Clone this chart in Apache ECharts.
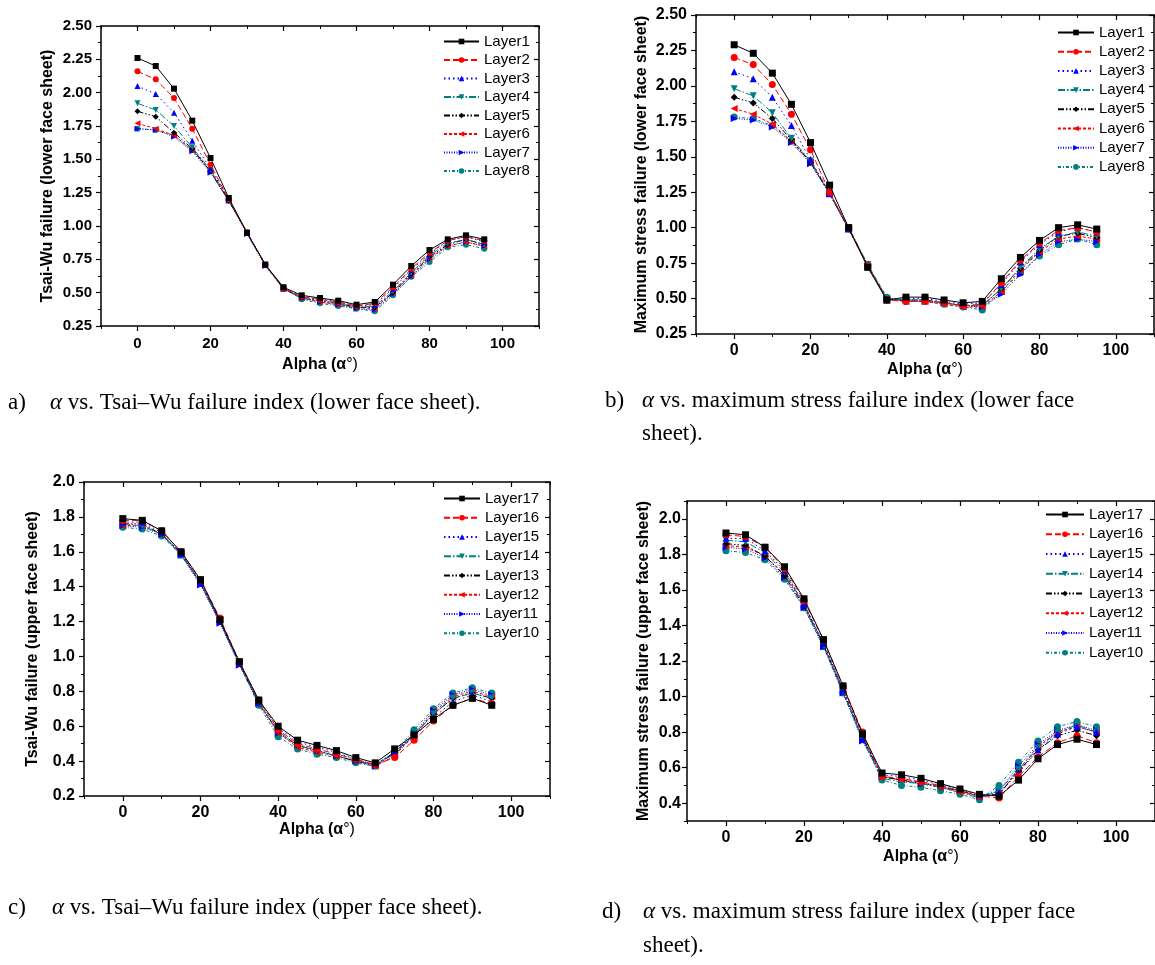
<!DOCTYPE html>
<html><head><meta charset="utf-8">
<script src="https://cdn.jsdelivr.net/npm/echarts@6/dist/echarts.min.js"></script>
<style>html,body{margin:0;padding:0;background:#fff}#c{width:1155px;height:965px}</style>
</head><body><div id="c"></div>
<script>
// ---------------- data ----------------
const alpha = [0,5,10,15,20,25,30,35,40,45,50,55,60,65,70,75,80,85,90,95];
const xTickValues = [0,20,40,60,80,100];
const yTicksLower = [0.25,0.5,0.75,1.0,1.25,1.5,1.75,2.0,2.25,2.5];
const yTicksTsaiUpper = [0.2,0.4,0.6,0.8,1.0,1.2,1.4,1.6,1.8,2.0];
const yTicksMaxUpper = [0.4,0.6,0.8,1.0,1.2,1.4,1.6,1.8,2.0];
const namesLower = ['Layer1','Layer2','Layer3','Layer4','Layer5','Layer6','Layer7','Layer8'];
const namesUpper = ['Layer17','Layer16','Layer15','Layer14','Layer13','Layer12','Layer11','Layer10'];

// (a) Tsai-Wu, lower face sheet
const tsaiLowerL1 = [2.26,2.20,2.03,1.79,1.51,1.21,0.95,0.71,0.54,0.48,0.46,0.44,0.41,0.43,0.56,0.70,0.82,0.90,0.93,0.90];
const tsaiLowerL2 = [2.16,2.10,1.96,1.73,1.46,1.20,0.95,0.71,0.53,0.47,0.45,0.43,0.40,0.42,0.54,0.68,0.80,0.89,0.92,0.89];
const tsaiLowerL3 = [2.05,1.99,1.85,1.64,1.43,1.20,0.95,0.71,0.53,0.47,0.45,0.43,0.40,0.41,0.53,0.67,0.79,0.89,0.92,0.88];
const tsaiLowerL4 = [1.92,1.87,1.75,1.59,1.42,1.20,0.95,0.71,0.53,0.46,0.44,0.42,0.39,0.40,0.51,0.65,0.78,0.87,0.90,0.86];
const tsaiLowerL5 = [1.86,1.82,1.70,1.58,1.41,1.19,0.95,0.71,0.53,0.46,0.44,0.42,0.39,0.39,0.50,0.64,0.77,0.86,0.90,0.86];
const tsaiLowerL6 = [1.77,1.73,1.68,1.57,1.41,1.19,0.95,0.71,0.53,0.46,0.43,0.41,0.39,0.38,0.50,0.63,0.76,0.85,0.88,0.85];
const tsaiLowerL7 = [1.73,1.72,1.67,1.56,1.40,1.19,0.94,0.70,0.53,0.46,0.43,0.41,0.38,0.37,0.49,0.62,0.75,0.85,0.88,0.85];
const tsaiLowerL8 = [1.73,1.72,1.68,1.57,1.41,1.19,0.95,0.71,0.54,0.45,0.42,0.40,0.38,0.36,0.48,0.62,0.73,0.84,0.86,0.83];

// (b) Maximum stress, lower face sheet
const maxLowerL1 = [2.29,2.23,2.09,1.87,1.60,1.30,1.00,0.72,0.49,0.51,0.51,0.49,0.47,0.48,0.64,0.79,0.91,1.00,1.02,0.99];
const maxLowerL2 = [2.20,2.15,2.01,1.80,1.55,1.25,1.00,0.73,0.49,0.48,0.48,0.47,0.45,0.46,0.61,0.77,0.89,0.98,1.00,0.97];
const maxLowerL3 = [2.10,2.05,1.92,1.72,1.48,1.24,0.99,0.73,0.49,0.50,0.50,0.48,0.46,0.47,0.60,0.76,0.88,0.97,1.00,0.97];
const maxLowerL4 = [1.98,1.93,1.81,1.63,1.47,1.25,1.00,0.74,0.50,0.49,0.49,0.47,0.45,0.45,0.57,0.72,0.85,0.94,0.97,0.94];
const maxLowerL5 = [1.92,1.88,1.77,1.62,1.46,1.24,0.99,0.73,0.49,0.49,0.49,0.47,0.45,0.45,0.57,0.71,0.84,0.94,0.96,0.93];
const maxLowerL6 = [1.84,1.80,1.73,1.61,1.46,1.24,0.99,0.73,0.50,0.48,0.48,0.46,0.44,0.44,0.55,0.70,0.83,0.92,0.94,0.92];
const maxLowerL7 = [1.77,1.76,1.71,1.60,1.45,1.24,0.99,0.73,0.50,0.49,0.48,0.47,0.45,0.44,0.53,0.67,0.81,0.90,0.92,0.90];
const maxLowerL8 = [1.78,1.77,1.72,1.61,1.47,1.25,1.00,0.74,0.51,0.48,0.48,0.46,0.44,0.42,0.55,0.68,0.80,0.88,0.92,0.88];

// (c) Tsai-Wu, upper face sheet (Layer17 ... Layer10)
const tsaiUpperL17 = [1.79,1.78,1.72,1.60,1.44,1.21,0.97,0.75,0.60,0.52,0.49,0.46,0.42,0.39,0.47,0.55,0.64,0.72,0.76,0.72];
const tsaiUpperL16 = [1.78,1.78,1.72,1.60,1.44,1.22,0.97,0.75,0.58,0.50,0.47,0.44,0.41,0.38,0.42,0.52,0.63,0.72,0.76,0.73];
const tsaiUpperL15 = [1.77,1.77,1.71,1.59,1.42,1.20,0.96,0.74,0.59,0.51,0.48,0.45,0.41,0.38,0.45,0.54,0.65,0.74,0.78,0.74];
const tsaiUpperL14 = [1.76,1.75,1.70,1.59,1.42,1.20,0.96,0.73,0.57,0.49,0.46,0.43,0.40,0.38,0.44,0.55,0.67,0.76,0.79,0.76];
const tsaiUpperL13 = [1.76,1.76,1.70,1.59,1.42,1.20,0.96,0.73,0.57,0.49,0.46,0.43,0.40,0.38,0.45,0.55,0.67,0.76,0.79,0.76];
const tsaiUpperL12 = [1.75,1.75,1.70,1.59,1.43,1.21,0.97,0.74,0.56,0.48,0.45,0.43,0.40,0.37,0.43,0.55,0.68,0.77,0.80,0.77];
const tsaiUpperL11 = [1.75,1.74,1.70,1.58,1.41,1.19,0.95,0.73,0.56,0.49,0.46,0.43,0.40,0.37,0.45,0.56,0.69,0.78,0.81,0.78];
const tsaiUpperL10 = [1.74,1.73,1.69,1.58,1.42,1.20,0.96,0.72,0.54,0.47,0.44,0.42,0.39,0.37,0.45,0.58,0.70,0.79,0.82,0.79];

// (d) Maximum stress, upper face sheet (Layer17 ... Layer10)
const maxUpperL17 = [1.92,1.91,1.84,1.73,1.55,1.32,1.06,0.79,0.57,0.56,0.54,0.51,0.48,0.45,0.44,0.53,0.65,0.73,0.76,0.73];
const maxUpperL16 = [1.91,1.90,1.84,1.72,1.54,1.32,1.06,0.80,0.55,0.54,0.52,0.50,0.47,0.44,0.43,0.55,0.66,0.74,0.78,0.74];
const maxUpperL15 = [1.89,1.89,1.82,1.71,1.52,1.30,1.04,0.76,0.56,0.55,0.53,0.51,0.48,0.44,0.46,0.57,0.70,0.79,0.83,0.80];
const maxUpperL14 = [1.88,1.87,1.81,1.70,1.52,1.29,1.03,0.76,0.54,0.52,0.51,0.49,0.46,0.43,0.47,0.59,0.71,0.80,0.84,0.80];
const maxUpperL13 = [1.86,1.85,1.79,1.68,1.51,1.29,1.03,0.77,0.55,0.53,0.51,0.49,0.47,0.44,0.45,0.58,0.70,0.78,0.81,0.78];
const maxUpperL12 = [1.85,1.84,1.79,1.69,1.52,1.30,1.04,0.78,0.55,0.53,0.52,0.49,0.46,0.44,0.45,0.59,0.72,0.80,0.83,0.80];
const maxUpperL11 = [1.84,1.83,1.78,1.67,1.50,1.28,1.02,0.75,0.55,0.53,0.51,0.50,0.47,0.44,0.47,0.61,0.73,0.81,0.84,0.81];
const maxUpperL10 = [1.82,1.81,1.77,1.66,1.50,1.28,1.02,0.76,0.53,0.50,0.49,0.47,0.45,0.42,0.50,0.63,0.75,0.83,0.86,0.83];

// ---------------- styles ----------------
const COLORS = ['#000000','#ff0000','#0000ff','#008080','#000000','#ff0000','#0000ff','#008080'];
const DASHES = ['solid',[6,3],[1.5,3],[7,2,1.5,2],[6,2,1.5,2,1.5,2],[3,2],[1,1.5],[3,2,1,2]];
const SYMBOLS = ['rect','circle','triangle','triangle','diamond','triangle','triangle','circle'];
const ROTATES = [0,0,0,180,0,90,-90,0];
const SANS = 'Liberation Sans, Arial, sans-serif';

const panels = [
  {grid:{left:101, top:26, width:438, height:300}, ymin:0.25, ymax:2.5, yTicks:yTicksLower, yMinor:0.125, dec:2,
   yName:'Tsai-Wu failure (lower face sheet)', yNameGap:45, xNameGap:31, tickFont:15, nameFont:16,
   yLabelMargin:9, xLabelMargin:10, sym:6,
   legend:{left:443, top:34, itemWidth:35, itemGap:3.5},
   names:namesLower, values:[tsaiLowerL1,tsaiLowerL2,tsaiLowerL3,tsaiLowerL4,tsaiLowerL5,tsaiLowerL6,tsaiLowerL7,tsaiLowerL8]},
  {grid:{left:696, top:15, width:458, height:319}, ymin:0.25, ymax:2.5, yTicks:yTicksLower, yMinor:0.125, dec:2,
   yName:'Maximum stress failure (lower face sheet)', yNameGap:46, xNameGap:28, tickFont:16, nameFont:16,
   yLabelMargin:9, xLabelMargin:9, sym:7,
   legend:{left:1057, top:25, itemWidth:36, itemGap:4.2},
   names:namesLower, values:[maxLowerL1,maxLowerL2,maxLowerL3,maxLowerL4,maxLowerL5,maxLowerL6,maxLowerL7,maxLowerL8]},
  {grid:{left:84, top:482, width:466, height:314}, ymin:0.2, ymax:2.0, yTicks:yTicksTsaiUpper, yMinor:0.1, dec:1,
   yName:'Tsai-Wu failure (upper face sheet)', yNameGap:43, xNameGap:26, tickFont:16, nameFont:16,
   yLabelMargin:9, xLabelMargin:9, sym:7,
   legend:{left:443, top:491, itemWidth:36, itemGap:4.25},
   names:namesUpper, values:[tsaiUpperL17,tsaiUpperL16,tsaiUpperL15,tsaiUpperL14,tsaiUpperL13,tsaiUpperL12,tsaiUpperL11,tsaiUpperL10]},
  {grid:{left:687, top:501, width:472, height:320}, ymin:0.3, ymax:2.1, yTicks:yTicksMaxUpper, yMinor:0.1, dec:1,
   yName:'Maximum stress failure (upper face sheet)', yNameGap:35, xNameGap:28, tickFont:16, nameFont:16,
   yLabelMargin:6, xLabelMargin:9, sym:7,
   legend:{left:1045, top:507, itemWidth:38, itemGap:4.75},
   names:namesUpper, values:[maxUpperL17,maxUpperL16,maxUpperL15,maxUpperL14,maxUpperL13,maxUpperL12,maxUpperL11,maxUpperL10]}
];

const grids = [], xAxes = [], yAxes = [], series = [], legends = [];
const AX = {color:'#000', width:1.5};
const NOLINE = {show:false, onZero:false};

panels.forEach(function (p, gi) {
  grids.push(Object.assign({containLabel:false}, p.grid));
  const lblStyle = {fontSize:p.tickFont, fontWeight:'bold', fontFamily:SANS, color:'#000'};
  // main bottom x axis
  const xMain = xAxes.length;
  xAxes.push({type:'value', gridIndex:gi, position:'bottom', min:-10, max:110,
    axisLine:{show:true, onZero:false, lineStyle:AX},
    axisTick:{show:true, customValues:xTickValues, length:5, lineStyle:{color:'#000', width:1.2}},
    axisLabel:Object.assign({show:true, customValues:xTickValues, margin:p.xLabelMargin}, lblStyle),
    splitLine:{show:false},
    name:'{b|Alpha (α}{n|°)}', nameLocation:'middle', nameGap:p.xNameGap,
    nameTextStyle:{rich:{b:{fontWeight:'bold', fontSize:p.nameFont, fontFamily:SANS, color:'#000'},
                         n:{fontSize:p.nameFont, fontFamily:SANS, color:'#000'}}}});
  // minor bottom ticks
  xAxes.push({type:'value', gridIndex:gi, position:'bottom', min:-10, max:110, interval:10,
    axisLine:NOLINE, axisTick:{show:true, length:3, lineStyle:{color:'#000', width:1}},
    axisLabel:{show:false}, splitLine:{show:false}});
  // top mirror
  xAxes.push({type:'value', gridIndex:gi, position:'top', min:-10, max:110,
    axisLine:{show:true, onZero:false, lineStyle:AX},
    axisTick:{show:true, inside:true, customValues:xTickValues, length:5, lineStyle:{color:'#000', width:1.2}},
    axisLabel:{show:false}, splitLine:{show:false}});
  xAxes.push({type:'value', gridIndex:gi, position:'top', min:-10, max:110, interval:10,
    axisLine:NOLINE, axisTick:{show:true, inside:true, length:3, lineStyle:{color:'#000', width:1}},
    axisLabel:{show:false}, splitLine:{show:false}});

  const yMain = yAxes.length;
  yAxes.push({type:'value', gridIndex:gi, position:'left', min:p.ymin, max:p.ymax,
    axisLine:{show:true, onZero:false, lineStyle:AX},
    axisTick:{show:true, customValues:p.yTicks, length:5, lineStyle:{color:'#000', width:1.2}},
    axisLabel:Object.assign({show:true, customValues:p.yTicks, margin:p.yLabelMargin,
      formatter:function (v) { return Number(v).toFixed(p.dec); }}, lblStyle),
    splitLine:{show:false},
    name:p.yName, nameLocation:'middle', nameRotate:90, nameGap:p.yNameGap,
    nameTextStyle:{fontWeight:'bold', fontSize:p.nameFont, fontFamily:SANS, color:'#000'}});
  yAxes.push({type:'value', gridIndex:gi, position:'left', min:p.ymin, max:p.ymax, interval:p.yMinor,
    axisLine:NOLINE, axisTick:{show:true, length:3, lineStyle:{color:'#000', width:1}},
    axisLabel:{show:false}, splitLine:{show:false}});
  yAxes.push({type:'value', gridIndex:gi, position:'right', min:p.ymin, max:p.ymax,
    axisLine:{show:true, onZero:false, lineStyle:AX},
    axisTick:{show:true, inside:true, customValues:p.yTicks, length:5, lineStyle:{color:'#000', width:1.2}},
    axisLabel:{show:false}, splitLine:{show:false}});
  yAxes.push({type:'value', gridIndex:gi, position:'right', min:p.ymin, max:p.ymax, interval:p.yMinor,
    axisLine:NOLINE, axisTick:{show:true, inside:true, length:3, lineStyle:{color:'#000', width:1}},
    axisLabel:{show:false}, splitLine:{show:false}});

  p.values.forEach(function (vals, k) {
    series.push({type:'line', name:p.names[k], xAxisIndex:xMain, yAxisIndex:yMain,
      data:alpha.map(function (a, i) { return [a, vals[i]]; }),
      symbol:SYMBOLS[k], symbolRotate:ROTATES[k], symbolSize:p.sym, showSymbol:true, showAllSymbol:true,
      itemStyle:{color:COLORS[k]},
      lineStyle:{color:COLORS[k], width:1, type:DASHES[k]},
      z:10 - k});
  });

  legends.push({orient:'vertical', left:p.legend.left, top:p.legend.top, padding:0,
    itemWidth:p.legend.itemWidth, itemHeight:7, itemGap:p.legend.itemGap, selectedMode:false,
    data:p.names, textStyle:{fontSize:15, lineHeight:15, fontFamily:SANS, color:'#000'}});
});

// ---------------- captions ----------------
const SERIF = 'Liberation Serif, Times New Roman, serif';
const CAPFS = 23;
const capRich = {i:{fontStyle:'italic', fontSize:CAPFS, fontFamily:SERIF, fill:'#000', color:'#000'}};
function cap(x, y, text) {
  return {type:'text', x:x, y:y, silent:true,
    style:{text:text, fontSize:CAPFS, fontFamily:SERIF, fill:'#000', verticalAlign:'middle', rich:capRich}};
}
const graphics = [
  cap(8, 403, 'a)'), cap(50, 403, '{i|α} vs. Tsai–Wu failure index (lower face sheet).'),
  cap(605, 401, 'b)'), cap(642, 401, '{i|α} vs. maximum stress failure index (lower face'), cap(642, 434, 'sheet).'),
  cap(8, 908, 'c)'), cap(52, 908, '{i|α} vs. Tsai–Wu failure index (upper face sheet).'),
  cap(602, 912, 'd)'), cap(643, 912, '{i|α} vs. maximum stress failure index (upper face'), cap(643, 946, 'sheet).')
];

const chart = echarts.init(document.getElementById('c'), null, {renderer:'canvas'});
chart.setOption({
  animation:false, backgroundColor:'#fff',
  grid:grids, xAxis:xAxes, yAxis:yAxes, series:series, legend:legends,
  graphic:graphics
});
</script></body></html>
